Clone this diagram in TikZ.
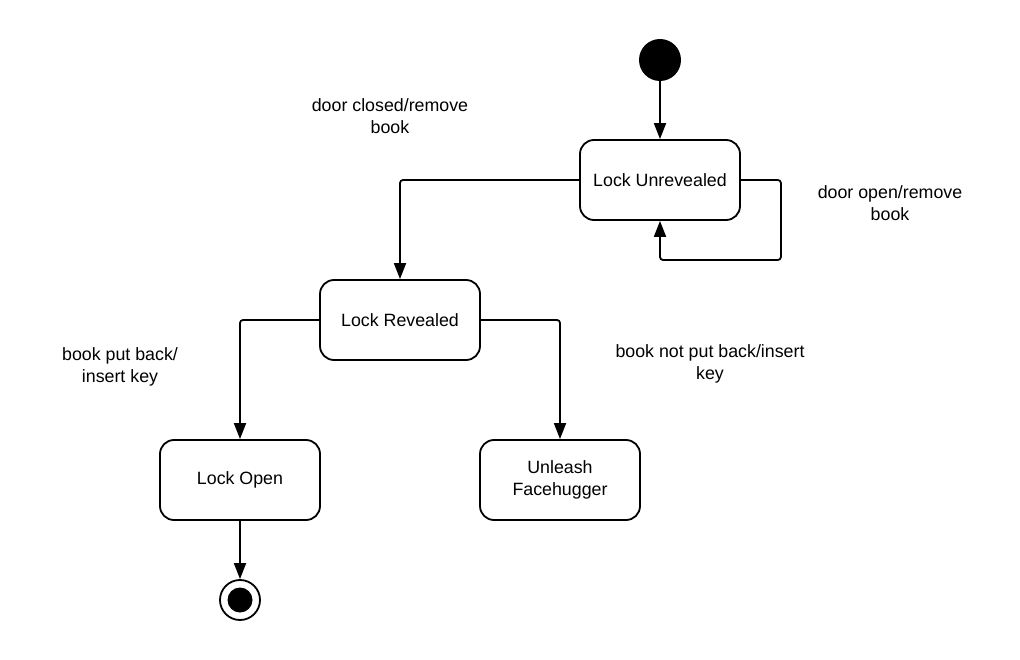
\documentclass[tikz,border=0pt]{standalone}
\usepackage{fontspec}
\setmainfont{Liberation Sans}
\usetikzlibrary{arrows.meta}
\begin{document}
\begin{tikzpicture}[x=1pt,y=-1pt,
  txt/.style={font=\fontsize{17.8}{22.5}\selectfont, align=center, inner sep=0pt},
  state/.style={txt, draw, line width=1.8pt, rounded corners=14pt,
    minimum width=160pt, minimum height=80pt},
  conn/.style={draw, line width=1.8pt, rounded corners=3pt,
    -{Triangle[length=16pt,width=12pt]}},
  lbl/.style={txt}]
\useasboundingbox (0,0) rectangle (1020,660);
\fill[white] (0,0) rectangle (1020,660);

\node[circle, fill=black, minimum size=42pt, inner sep=0pt] (start) at (660,60) {};
\node[state] (lu) at (660,180) {Lock Unrevealed};
\node[state] (lr) at (400,320) {Lock Revealed};
\node[state] (lo) at (240,480) {Lock Open};
\node[state] (uf) at (560,480) {Unleash\\Facehugger};
\node[circle, draw, line width=1.8pt, minimum size=40pt, inner sep=0pt] (end) at (240,600) {};
\node[circle, fill=black, minimum size=25pt, inner sep=0pt] (endin) at (end.center) {};

\draw[conn] (start) -- (lu);
\draw[conn] (lu.west) -| (lr.north);
\draw[conn] (lu.east) -- ++(40,0) -- ++(0,80) -| (lu.south);
\draw[conn] (lr.west) -| (lo.north);
\draw[conn] (lr.east) -| (uf.north);
\draw[conn] (lo) -- (end);

\node[lbl] (l1) at (390,116) {door closed/remove\\book};
\node[lbl] (l2) at (890,203) {door open/remove\\book};
\node[lbl] (l3) at (120,367) {book put back/\\insert key};
\node[lbl] (l4) at (710,364) {book not put back/insert\\key};
\end{tikzpicture}
\end{document}
